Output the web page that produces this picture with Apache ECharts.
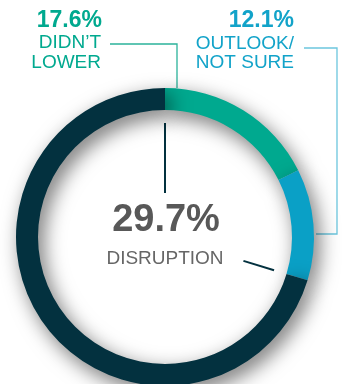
<!DOCTYPE html>
<html><head><meta charset="utf-8">
<script src="https://cdn.jsdelivr.net/npm/echarts@6/dist/echarts.min.js"></script>
<style>html,body{margin:0;padding:0;background:#fff}#c{width:342px;height:384px}</style>
</head><body><div id="c"></div>
<script>
var categories = ["DIDN\u2019T LOWER", "OUTLOOK/ NOT SURE", "OTHER"];
var values = [17.6, 12.1, 70.3];
var valueLabels = ["17.6%", "12.1%"];
var nameLines = [["DIDN\u2019T", "LOWER"], ["OUTLOOK/", "NOT SURE"]];
var centerValue = "29.7%";
var centerLabel = "DISRUPTION";
var colors = ["#00A98F", "#0AA0C6", "#03313F"];

var cx = 165, cy = 237, R = 149, thick = 22;
var font = "'Liberation Sans', Arial, sans-serif";
var total = values.reduce(function(a,b){return a+b;},0);
function pt(frac, r){ var a = frac*2*Math.PI; return [cx + r*Math.sin(a), cy - r*Math.cos(a)]; }
var endFrac = (values[0]+values[1])/total;
var p1a = pt(0, 44), p1b = pt(0, 114);
var p2a = pt(endFrac, 82), p2b = pt(endFrac, 114);

var chart = echarts.init(document.getElementById('c'), null, {renderer:'canvas'});
chart.setOption({
  animation:false,
  series:[{
    type:'pie', center:[cx,cy], radius:[R-thick, R], startAngle:90, clockwise:true,
    label:{show:false}, labelLine:{show:false}, silent:true,
    itemStyle:{shadowBlur:20, shadowColor:'rgba(0,0,0,0.55)', shadowOffsetX:5, shadowOffsetY:7},
    data: categories.map(function(c,i){return {name:c, value:values[i], itemStyle:{color:colors[i]}};})
  }],
  graphic:[
    {type:'polyline', shape:{points:[[110,44],[177,44],[177,88]]}, style:{stroke:'#2BB39B', lineWidth:1.3, fill:null}},
    {type:'polyline', shape:{points:[[304,48],[337,48],[337,234],[316,234]]}, style:{stroke:'#6CC6DE', lineWidth:1.3, fill:null}},
    {type:'line', shape:{x1:p1a[0],y1:p1a[1],x2:p1b[0],y2:p1b[1]}, style:{stroke:colors[2], lineWidth:2}},
    {type:'line', shape:{x1:p2a[0],y1:p2a[1],x2:p2b[0],y2:p2b[1]}, style:{stroke:colors[2], lineWidth:2}},
    {type:'text', x:102, y:21, style:{text:valueLabels[0], font:'bold 23px '+font, fill:colors[0], textAlign:'right', textVerticalAlign:'middle'}},
    {type:'text', x:101, y:43, style:{text:nameLines[0][0], font:'19px '+font, fill:colors[0], textAlign:'right', textVerticalAlign:'middle'}},
    {type:'text', x:101, y:63, style:{text:nameLines[0][1], font:'19px '+font, fill:colors[0], textAlign:'right', textVerticalAlign:'middle'}},
    {type:'text', x:294, y:21, style:{text:valueLabels[1], font:'bold 23px '+font, fill:'#12A3C9', textAlign:'right', textVerticalAlign:'middle'}},
    {type:'text', x:294, y:44, style:{text:nameLines[1][0], font:'19px '+font, fill:'#12A3C9', textAlign:'right', textVerticalAlign:'middle'}},
    {type:'text', x:294, y:63, style:{text:nameLines[1][1], font:'19px '+font, fill:'#12A3C9', textAlign:'right', textVerticalAlign:'middle'}},
    {type:'text', x:166, y:221, style:{text:centerValue, font:'bold 38px '+font, fill:'#585858', textAlign:'center', textVerticalAlign:'middle'}},
    {type:'text', x:165, y:259, style:{text:centerLabel, font:'19px '+font, fill:'#666666', textAlign:'center', textVerticalAlign:'middle'}}
  ]
});
</script></body></html>
